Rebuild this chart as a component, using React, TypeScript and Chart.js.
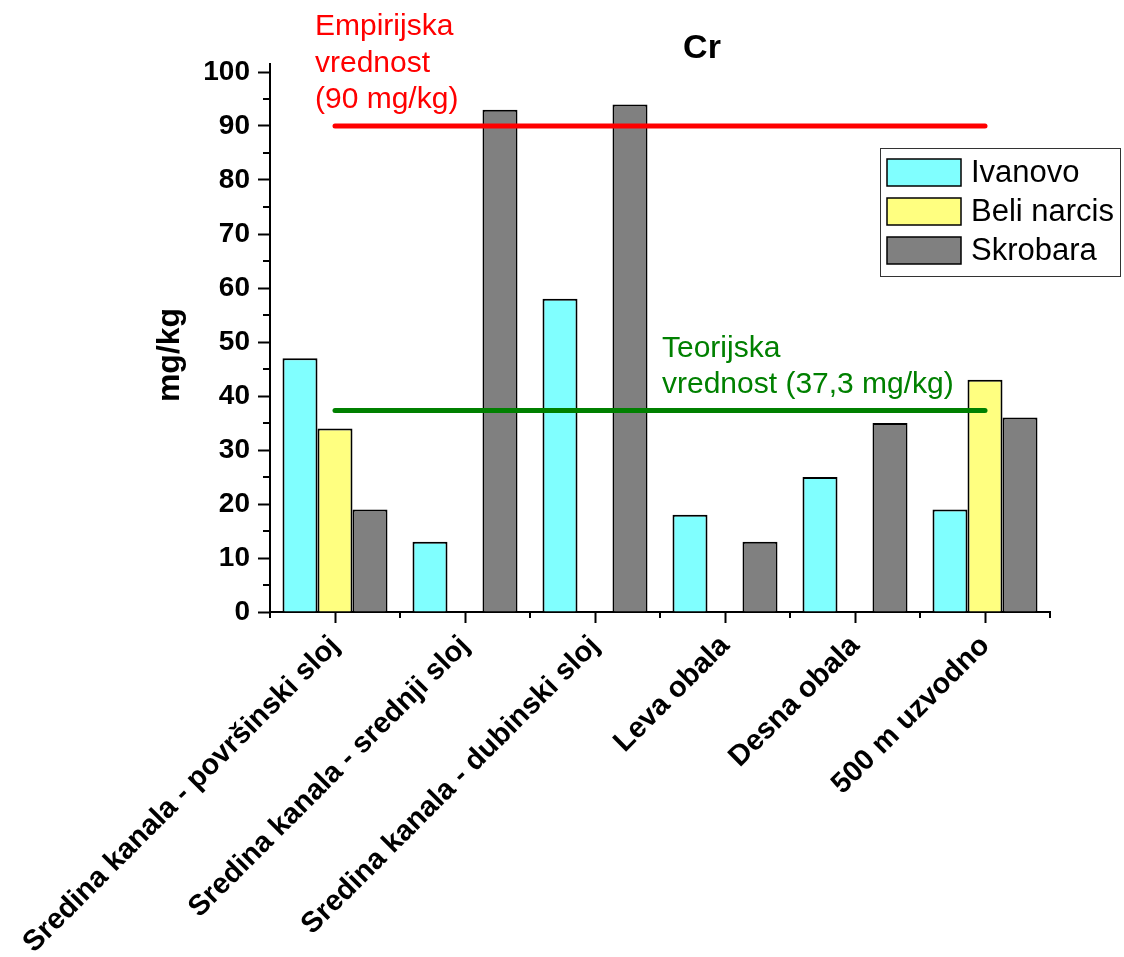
import React, { useEffect, useRef } from "react";
import { Chart, registerables } from "chart.js";

Chart.register(...registerables);

const categories = [
  "Sredina kanala - površinski sloj",
  "Sredina kanala - srednji sloj",
  "Sredina kanala - dubinski sloj",
  "Leva obala",
  "Desna obala",
  "500 m uzvodno",
];
const ivanovo = [47, 13, 58, 18, 25, 19];
const beliNarcis = [34, null, null, null, null, 43];
const skrobara = [19, 93, 94, 13, 35, 36];
const empirijskaValue = 90;
const teorijskaValue = 37.3;
const empirijska = categories.map(() => empirijskaValue);
const teorijska = categories.map(() => teorijskaValue);
const seriesNames = ["Ivanovo", "Beli narcis", "Skrobara"];
const seriesColors = ["#80FFFF", "#FFFF80", "#808080"];
const chartTitle = "Cr";
const yTitle = "mg/kg";
const empText = ["Empirijska", "vrednost", "(90 mg/kg)"];
const teoText = ["Teorijska", "vrednost (37,3 mg/kg)"];

const FONT = "'Liberation Sans', Arial, sans-serif";

const decorPlugin = {
  id: "decor",
  afterDraw(chart: any) {
    const ctx = chart.ctx;
    const ca = chart.chartArea;
    const ys = chart.scales.y;
    ctx.save();
    ctx.strokeStyle = "#000";
    ctx.lineWidth = 2;
    ctx.beginPath();
    ctx.moveTo(ca.left, ca.top - 9);
    ctx.lineTo(ca.left, ca.top);
    ctx.stroke();
    for (let v = 5; v < 100; v += 10) {
      const py = Math.round(ys.getPixelForValue(v));
      ctx.beginPath();
      ctx.moveTo(ca.left - 7, py);
      ctx.lineTo(ca.left, py);
      ctx.stroke();
    }
    const n = categories.length;
    const step = (ca.right - ca.left) / n;
    for (let i = 0; i <= n; i++) {
      const px = Math.round(ca.left + i * step);
      ctx.beginPath();
      ctx.moveTo(px, ca.bottom);
      ctx.lineTo(px, ca.bottom + 6);
      ctx.stroke();
    }
    ctx.fillStyle = "#000";
    ctx.font = `bold 34px ${FONT}`;
    ctx.textAlign = "center";
    ctx.textBaseline = "middle";
    ctx.fillText(chartTitle, 702, 49);
    ctx.save();
    ctx.translate(170, 355);
    ctx.rotate(-Math.PI / 2);
    ctx.font = `bold 32px ${FONT}`;
    ctx.fillText(yTitle, 0, 0);
    ctx.restore();
    ctx.textAlign = "left";
    ctx.textBaseline = "alphabetic";
    ctx.font = `30px ${FONT}`;
    ctx.fillStyle = "#FF0000";
    empText.forEach((t, i) => ctx.fillText(t, 315, 35 + i * 36.5));
    ctx.fillStyle = "#008000";
    teoText.forEach((t, i) => ctx.fillText(t, 662, 357 + i * 36));
    ctx.fillStyle = "#fff";
    ctx.fillRect(880, 148, 241, 129);
    ctx.strokeStyle = "#333";
    ctx.lineWidth = 1;
    ctx.strokeRect(880.5, 148.5, 240, 128);
    ctx.font = `31px ${FONT}`;
    ctx.textBaseline = "middle";
    seriesNames.forEach((name, i) => {
      const top = 159 + i * 39;
      ctx.fillStyle = seriesColors[i];
      ctx.fillRect(887, top, 74, 27);
      ctx.strokeStyle = "#000";
      ctx.lineWidth = 1.5;
      ctx.strokeRect(887, top, 74, 27);
      ctx.fillStyle = "#000";
      ctx.fillText(name, 971, top + 14);
    });
    ctx.restore();
  },
};

export default function App() {
  const ref = useRef<HTMLCanvasElement>(null);
  useEffect(() => {
    if (!ref.current) return;
    const barDs = (label: string, data: any[], color: string) => ({
      type: "bar" as const,
      label,
      data,
      backgroundColor: color,
      borderColor: "#000",
      borderWidth: 2,
      barPercentage: 1,
      categoryPercentage: 105 / 130,
      order: 2,
    });
    const lineDs = (label: string, data: number[], color: string) => ({
      type: "line" as const,
      label,
      data,
      borderColor: color,
      backgroundColor: color,
      borderWidth: 5,
      borderCapStyle: "round" as const,
      pointRadius: 0,
      fill: false,
      order: 1,
    });
    const chart = new Chart(ref.current, {
      type: "bar",
      data: {
        labels: categories,
        datasets: [
          barDs(seriesNames[0], ivanovo, seriesColors[0]),
          barDs(seriesNames[1], beliNarcis, seriesColors[1]),
          barDs(seriesNames[2], skrobara, seriesColors[2]),
          lineDs("Empirijska", empirijska, "#FF0000"),
          lineDs("Teorijska", teorijska, "#008000"),
        ] as any,
      },
      options: {
        responsive: false,
        animation: false,
        layout: { padding: { left: 0, top: 72, right: 74, bottom: 0 } },
        plugins: {
          legend: { display: false },
          title: { display: false },
          tooltip: { enabled: false },
        },
        scales: {
          x: {
            offset: true,
            grid: {
              display: true,
              drawOnChartArea: false,
              drawTicks: true,
              tickLength: 11,
              tickWidth: 2,
              tickColor: "#000",
              offset: false,
            },
            border: { display: true, color: "#000", width: 2 },
            ticks: {
              color: "#000",
              font: { family: FONT, size: 29, weight: "bold" },
              minRotation: 45,
              maxRotation: 45,
              autoSkip: false,
              padding: 6,
            },
            afterFit: (s: any) => {
              s.height = 957 - 612;
              s.paddingLeft = 0;
              s.paddingRight = 0;
            },
          },
          y: {
            min: 0,
            max: 100,
            ticks: {
              stepSize: 10,
              color: "#000",
              font: { family: FONT, size: 28, weight: "bold" },
              padding: 8,
            },
            grid: {
              display: true,
              drawOnChartArea: false,
              drawTicks: true,
              tickLength: 12,
              tickWidth: 2,
              tickColor: "#000",
            },
            border: { display: true, color: "#000", width: 2 },
            afterFit: (s: any) => {
              s.width = 270;
            },
          },
        },
      },
      plugins: [decorPlugin],
    });
    return () => chart.destroy();
  }, []);
  return (
    <div style={{ position: "absolute", left: 0, top: 0, width: 1124, height: 957, background: "#fff" }}>
      <canvas ref={ref} width={1124} height={957} style={{ display: "block" }} />
    </div>
  );
}
